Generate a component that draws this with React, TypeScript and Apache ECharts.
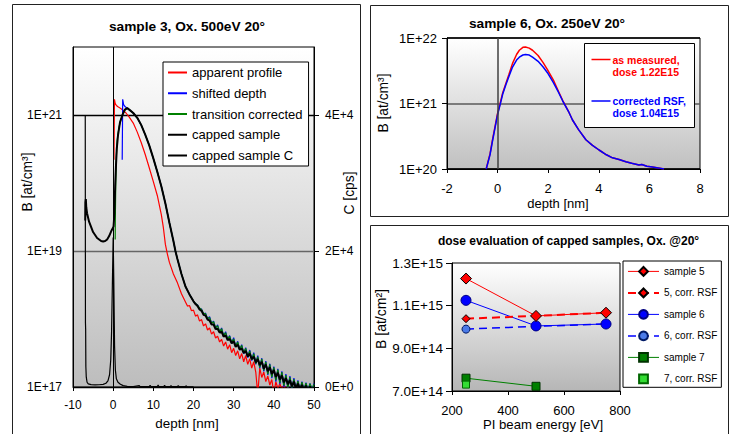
import React, { useEffect, useRef } from 'react';
import * as echarts from 'echarts';

const FONT = "'Liberation Sans', Arial, Helvetica, sans-serif";
type P = [number, number];

// ---------- Panel 1: sample 3, Ox. 500eV 20° (depth [nm], B [at/cm³], C [cps]) ----------
const apparentProfile: P[] = [
  [0.2, 2.2e20], [0.32, 1.7e21], [0.5, 1.48e21], [0.8, 1.38e21], [1.2, 1.32e21], [1.8, 1.26e21],
  [2.5, 1.17e21], [3.2, 1.07e21], [4.0, 9.3e20], [5.0, 7.6e20], [6.0, 5.6e20], [7.0, 3.9e20],
  [8.0, 2.6e20], [9.0, 1.66e20], [10.0, 1.05e20], [11.0, 6.5e19], [12.0, 3.4e19], [12.5, 2.2e19],
  [13.0, 1.25e19], [13.5, 9.0e18], [14.0, 6.8e18], [14.5, 5.6e18], [15.0, 4.6e18], [16.0, 3.4e18],
  [17.0, 2.35e18], [18.0, 1.78e18],
  [18.5, 1.55e18], [19, 1.58e18], [19.5, 1.32e18], [20, 1.35e18], [20.5, 1.1e18], [21, 1.15e18],
  [21.5, 9.3e17], [22, 9.8e17], [22.5, 7.9e17], [23, 8.5e17], [23.5, 6.9e17], [24, 7.4e17],
  [24.5, 6.0e17], [25, 6.5e17], [25.5, 5.25e17], [26, 5.6e17], [26.5, 4.6e17], [27, 5.0e17],
  [27.5, 4.0e17], [28, 4.6e17], [28.5, 3.6e17], [29, 4.2e17], [29.5, 3.2e17], [30, 3.7e17],
  [30.5, 2.9e17], [31, 3.4e17], [31.5, 2.6e17], [32, 3.1e17], [32.5, 2.35e17], [33, 2.9e17],
  [33.5, 2.15e17], [34, 2.6e17], [34.5, 1.9e17], [35, 2.35e17], [35.5, 1.66e17], [36, 7.9e16],
  [36.5, 1.9e17], [37, 1.38e17], [37.5, 1.66e17], [38, 1.2e17], [38.5, 1.45e17], [39, 1.07e17],
  [39.5, 1.29e17], [40, 7.9e16], [40.5, 1.2e17], [41, 9.5e16], [41.5, 1.12e17], [42, 9.1e16],
  [42.5, 1.07e17], [43, 8.9e16], [43.5, 1.02e17], [44, 8.5e16],
];

const shiftedDepthHead: P[] = [[2.25, 2.2e20], [2.37, 1.7e21], [2.6, 1.42e21], [3.0, 1.32e21]];

const transitionHead: P[] = [
  [0.5, 1.48e19], [0.55, 3.5e19], [0.65, 1.0e20], [0.8, 2.5e20], [1.0, 4.2e20], [1.2, 5.3e20],
  [1.5, 6.8e20], [1.9, 8.5e20], [2.4, 1.03e21], [2.9, 1.17e21],
];

const cappedHead: P[] = [
  [-6.95, 2.8e19], [-6.9, 5.2e19], [-6.8, 5.8e19], [-6.7, 4.4e19], [-6.5, 3.6e19], [-6.0, 2.7e19],
  [-5.0, 1.9e19], [-4.0, 1.55e19], [-3.0, 1.4e19], [-2.5, 1.38e19], [-2.0, 1.4e19], [-1.5, 1.48e19],
  [-1.0, 1.66e19], [-0.5, 1.95e19], [-0.2, 2.1e19], [0.1, 2.3e19], [0.3, 3.5e19], [0.5, 9.0e19],
  [0.7, 1.8e20], [0.9, 3.2e20], [1.2, 5.0e20], [1.7, 7.8e20], [2.3, 1.0e21], [2.9, 1.2e21],
];

// common part of shifted / transition-corrected / capped profiles
const profileBody: P[] = [
  [3.5, 1.26e21], [4.0, 1.2e21], [5, 1.07e21], [6, 9.1e20], [7, 7.1e20], [8, 5.1e20], [9, 3.55e20],
  [10, 2.3e20], [11, 1.45e20], [12, 8.9e19], [13, 5.0e19], [14, 2.6e19], [15, 1.4e19], [15.5, 1.0e19],
  [16, 7.6e18], [17, 4.6e18], [18, 3.0e18], [19, 2.3e18], [20, 1.82e18],
];

const shiftedDepthTail: P[] = [
  [20.5, 1.68e18], [21, 1.62e18], [21.5, 1.42e18], [22, 1.4e18], [22.5, 1.18e18], [23, 1.22e18],
  [23.5, 1.0e18], [24, 1.08e18], [24.5, 8.6e17], [25, 9.3e17], [25.5, 7.3e17], [26, 8.2e17],
  [26.5, 6.4e17], [27, 7.4e17], [27.5, 5.6e17], [28, 6.5e17], [28.5, 5.0e17], [29, 5.7e17],
  [29.5, 4.4e17], [30, 5.3e17], [30.5, 3.9e17], [31, 4.7e17], [31.5, 3.5e17], [32, 4.2e17],
  [32.5, 3.1e17], [33, 3.8e17], [33.5, 2.7e17], [34, 3.5e17], [34.5, 2.45e17], [35, 3.2e17],
  [35.5, 2.15e17], [36, 2.9e17], [36.5, 1.9e17], [37, 2.65e17], [37.5, 1.7e17], [38, 2.4e17],
  [38.5, 1.5e17], [39, 2.2e17], [39.5, 1.35e17], [40, 2.0e17], [40.5, 1.2e17], [41, 1.85e17],
  [41.5, 1.1e17], [42, 1.7e17], [42.5, 1.0e17], [43, 1.55e17], [43.5, 9.5e16], [44, 1.45e17],
  [44.5, 9.2e16], [45, 1.35e17], [45.5, 9.0e16], [46, 1.25e17], [46.5, 8.8e16], [47, 1.2e17],
  [47.5, 8.8e16], [48, 1.16e17], [48.5, 8.8e16], [49, 1.13e17], [49.5, 9.0e16], [50, 1.12e17],
];

const transitionTail: P[] = [
  [20.5, 1.7e18], [21, 1.6e18], [21.5, 1.45e18], [22, 1.38e18], [22.5, 1.2e18], [23, 1.2e18],
  [23.5, 1.02e18], [24, 1.05e18], [24.5, 8.7e17], [25, 9.1e17], [25.5, 7.4e17], [26, 8.0e17],
  [26.5, 6.5e17], [27, 7.2e17], [27.5, 5.7e17], [28, 6.3e17], [28.5, 5.1e17], [29, 5.6e17],
  [29.5, 4.5e17], [30, 5.1e17], [30.5, 4.0e17], [31, 4.6e17], [31.5, 3.6e17], [32, 4.1e17],
  [32.5, 3.2e17], [33, 3.7e17], [33.5, 2.8e17], [34, 3.4e17], [34.5, 2.5e17], [35, 3.1e17],
  [35.5, 2.2e17], [36, 2.8e17], [36.5, 1.95e17], [37, 2.6e17], [37.5, 1.75e17], [38, 2.35e17],
  [38.5, 1.55e17], [39, 2.15e17], [39.5, 1.4e17], [40, 1.95e17], [40.5, 1.25e17], [41, 1.8e17],
  [41.5, 1.15e17], [42, 1.65e17], [42.5, 1.05e17], [43, 1.5e17], [43.5, 9.8e16], [44, 1.4e17],
  [44.5, 9.5e16], [45, 1.3e17], [45.5, 9.2e16], [46, 1.22e17], [46.5, 9.0e16], [47, 1.18e17],
  [47.5, 9.0e16], [48, 1.14e17], [48.5, 9.0e16], [49, 1.12e17], [49.5, 9.3e16], [50, 1.1e17],
];

const cappedTail: P[] = [
  [20.5, 1.66e18], [21, 1.55e18], [21.5, 1.38e18], [22, 1.32e18], [22.5, 1.15e18], [23, 1.12e18],
  [23.5, 9.8e17], [24, 9.5e17], [24.5, 8.3e17], [25, 8.3e17], [25.5, 7.1e17], [26, 7.2e17],
  [26.5, 6.3e17], [27, 6.5e17], [27.5, 5.5e17], [28, 5.75e17], [28.5, 4.9e17], [29, 5.1e17],
  [29.5, 4.4e17], [30, 4.7e17], [30.5, 3.9e17], [31, 4.2e17], [31.5, 3.55e17], [32, 3.7e17],
  [32.5, 3.16e17], [33, 3.4e17], [33.5, 2.8e17], [34, 3.1e17], [34.5, 2.57e17], [35, 2.8e17],
  [35.5, 2.3e17], [36, 2.57e17], [36.5, 2.1e17], [37, 2.35e17], [37.5, 1.86e17], [38, 2.14e17],
  [38.5, 1.7e17], [39, 1.95e17], [39.5, 1.55e17], [40, 1.78e17], [40.5, 1.41e17], [41, 1.62e17],
  [41.5, 1.29e17], [42, 1.48e17], [42.5, 1.17e17], [43, 1.35e17], [43.5, 1.1e17], [44, 1.26e17],
  [44.5, 1.02e17], [45, 1.2e17], [45.5, 9.5e16], [46, 1.12e17], [46.5, 9.3e16], [47, 1.07e17],
  [47.5, 9.1e16], [48, 1.05e17], [48.5, 8.9e16], [49, 1.02e17], [49.5, 9.1e16], [50, 1.0e17],
];

const cappedC: P[] = [
  [-6.95, 40000], [-6.9, 9500], [-6.85, 8500], [-6.8, 3000], [-6.7, 1500], [-6.5, 700], [-6.2, 450],
  [-5.5, 350], [-4.5, 320], [-3.5, 330], [-2.5, 380], [-1.8, 550], [-1.3, 900], [-0.9, 1800],
  [-0.6, 4000], [-0.4, 8000], [-0.2, 15000], [0.0, 22000], [0.15, 16000], [0.35, 6000], [0.55, 2500],
  [0.8, 1200], [1.2, 700], [1.8, 400], [2.5, 200], [3.5, 100], [5, 60], [6.5, 200], [6.7, 50],
  [9, 60], [9.2, 250], [9.4, 50], [11, 60], [11.2, 300], [11.4, 50], [12.6, 60], [12.8, 250],
  [13, 50], [14.2, 60], [14.4, 200], [14.6, 50], [16, 60], [16.2, 220], [16.4, 50], [18, 50],
  [18.2, 180], [18.4, 40], [20, 40],
];

const leftLegend = ['apparent profile', 'shifted depth', 'transition corrected', 'capped sample', 'capped sample C'];

// ---------- Panel 2: sample 6, Ox. 250eV 20° ----------
const sample6Measured: P[] = [
  [-0.45, 1.0e20], [-0.3, 1.7e20], [-0.2, 2.8e20], [0.0, 7.1e20], [0.1, 1.0e21], [0.2, 1.45e21],
  [0.33, 2.04e21], [0.45, 2.8e21], [0.59, 4.1e21], [0.75, 5.6e21], [0.86, 6.5e21], [1.0, 7.2e21],
  [1.1, 7.3e21], [1.25, 7.0e21], [1.38, 6.5e21], [1.6, 5.4e21], [1.8, 4.2e21], [1.97, 3.3e21],
  [2.2, 2.3e21], [2.4, 1.55e21], [2.57, 1.12e21],
];
const sample6Corrected: P[] = [
  [-0.45, 1.0e20], [-0.3, 1.65e20], [-0.2, 2.7e20], [0.0, 6.8e20], [0.1, 9.6e20], [0.2, 1.38e21],
  [0.33, 1.95e21], [0.45, 2.6e21], [0.59, 3.6e21], [0.75, 4.6e21], [0.86, 5.1e21], [1.0, 5.5e21],
  [1.1, 5.6e21], [1.25, 5.5e21], [1.38, 5.1e21], [1.6, 4.4e21], [1.8, 3.6e21], [1.97, 2.95e21],
  [2.2, 2.1e21], [2.4, 1.5e21], [2.57, 1.1e21],
];
const sample6Tail: P[] = [
  [2.8, 7.6e20], [2.96, 5.6e20], [3.2, 4.0e20], [3.49, 2.8e20], [3.75, 2.3e20], [4.01, 1.95e20],
  [4.3, 1.65e20], [4.54, 1.48e20], [4.8, 1.4e20], [5.07, 1.29e20], [5.3, 1.22e20], [5.59, 1.15e20],
  [5.7, 1.17e20], [5.9, 1.1e20], [6.12, 1.07e20], [6.35, 1.04e20], [6.58, 1.0e20],
];

// ---------- Panel 3: dose evaluation ----------
const energies = [250, 500, 750];
const sample5 = [1.227e15, 1.052e15, 1.067e15];
const sample5Corr = [1.039e15, 1.052e15, 1.067e15];
const sample6Dose = [1.125e15, 1.005e15, 1.014e15];
const sample6DoseCorr = [0.99e15, 1.003e15, 1.014e15];
const sample7 = [7.6e14, 7.22e14];
const sample7Corr = [7.3e14];
const rightLegend = ['sample 5', '5, corr. RSF', 'sample 6', '6, corr. RSF', 'sample 7', '7, corr. RSF'];

const pairs = (xs: number[], ys: number[]) => ys.map((y, i) => [xs[i], y]);

const sci = (v: number) => {
  const e = Math.floor(Math.log10(v) + 1e-9);
  const m = v / Math.pow(10, e);
  return `${m.toFixed(1)}E+${e}`;
};

const gradient = (bottom: string) =>
  new echarts.graphic.LinearGradient(0, 0, 0, 1, [
    { offset: 0, color: '#ffffff' },
    { offset: 1, color: bottom },
  ]);

const vline = (color: string, width: number) => ({
  silent: true,
  symbol: ['none', 'none'],
  label: { show: false },
  lineStyle: { color, width, type: 'solid' },
  emphasis: { disabled: true },
  data: [{ xAxis: 0 }],
});

const txt = (text: string, x: number, y: number, size: number, opts: any = {}) => ({
  type: 'text',
  x,
  y,
  rotation: opts.rotation || 0,
  silent: true,
  style: {
    text,
    fill: opts.color || '#000',
    fontSize: size,
    fontWeight: opts.bold ? 'bold' : 'normal',
    fontFamily: FONT,
    align: opts.align || 'center',
    verticalAlign: 'middle',
  },
});

const App: React.FC = () => {
  const ref = useRef<HTMLDivElement>(null);

  useEffect(() => {
    if (!ref.current) return;
    const chart = echarts.init(ref.current, undefined, { renderer: 'svg' });

    const axisLine = { show: true, onZero: false, lineStyle: { color: '#000', width: 1 } };
    const tick = (len: number) => ({ show: true, length: len, lineStyle: { color: '#000' } });

    const lineSeries = (name: string, data: any[], color: string, width: number, xi: number, yi: number, extra: any = {}) => ({
      name,
      type: 'line',
      xAxisIndex: xi,
      yAxisIndex: yi,
      data,
      color,
      symbol: 'none',
      showSymbol: false,
      lineStyle: { color, width },
      emphasis: { disabled: true },
      silent: true,
      ...extra,
    });

    const doseSeries = (name: string, ys: number[], color: string, symbol: string, size: number, fill: string, border: string, lineType: any, lineWidth: number) => ({
      name,
      type: 'line',
      xAxisIndex: 2,
      yAxisIndex: 3,
      data: pairs(energies, ys),
      color: fill,
      symbol,
      symbolSize: size,
      showSymbol: true,
      itemStyle: { color: fill, borderColor: border, borderWidth: 1 },
      lineStyle: { color, width: lineWidth, type: lineType },
      emphasis: { disabled: true },
      silent: true,
    });

    const option: any = {
      animation: false,
      backgroundColor: '#ffffff',
      textStyle: { fontFamily: FONT, color: '#000' },
      grid: [
        { left: 73, top: 47, width: 241, height: 340, show: true, backgroundColor: gradient('#bdbdbd'), borderColor: '#000', borderWidth: 1 },
        { left: 447, top: 38, width: 253, height: 131, show: true, backgroundColor: gradient('#c0c0c0'), borderColor: '#000', borderWidth: 1 },
        { left: 452, top: 263, width: 168, height: 128, show: true, backgroundColor: gradient('#b6b6b6'), borderColor: '#000', borderWidth: 1 },
      ],
      xAxis: [
        { gridIndex: 0, type: 'value', min: -10, max: 50, interval: 10, axisLine, axisTick: tick(4),
          axisLabel: { fontSize: 12, margin: 12, color: '#000', fontFamily: FONT }, splitLine: { show: false } },
        { gridIndex: 1, type: 'value', min: -2, max: 8, interval: 2, axisLine, axisTick: tick(4),
          axisLabel: { fontSize: 13, margin: 13, color: '#000', fontFamily: FONT }, splitLine: { show: false } },
        { gridIndex: 2, type: 'value', min: 200, max: 800, interval: 200, axisLine, axisTick: tick(4),
          axisLabel: { fontSize: 13, margin: 13, color: '#000', fontFamily: FONT }, splitLine: { show: false } },
      ],
      yAxis: [
        { gridIndex: 0, type: 'log', min: 1e17, max: 1e22, position: 'left', axisLine, axisTick: { show: false },
          axisLabel: { fontSize: 12, margin: 11, color: '#000', fontFamily: FONT,
            formatter: (v: number) => { const e = Math.round(Math.log10(v)); return e % 2 === 1 ? `1E+${e}` : ''; } },
          splitLine: { show: false } },
        { gridIndex: 0, type: 'value', min: 0, max: 50000, interval: 20000, position: 'right', axisLine,
          axisTick: { show: true, length: 5, lineStyle: { color: '#000' }, customValues: [0, 20000, 40000] },
          axisLabel: { fontSize: 12, margin: 11, color: '#000', fontFamily: FONT,
            formatter: (v: number) => (v === 0 ? '0E+0' : v % 20000 === 0 ? `${v / 10000}E+4` : '') },
          splitLine: { show: true, lineStyle: { color: ['#000', '#666666', '#000', '#000'], width: 1.3 } } },
        { gridIndex: 1, type: 'log', min: 1e20, max: 1e22, position: 'left', axisLine, axisTick: tick(5),
          axisLabel: { fontSize: 13, margin: 10, color: '#000', fontFamily: FONT,
            formatter: (v: number) => `1E+${Math.round(Math.log10(v))}` },
          splitLine: { show: true, lineStyle: { color: ['#000', '#5a5a5a', '#000'], width: 1.5 } } },
        { gridIndex: 2, type: 'value', min: 7e14, max: 1.3e15, interval: 2e14, position: 'left', axisLine, axisTick: tick(6),
          axisLabel: { fontSize: 13.5, margin: 9, color: '#000', fontFamily: FONT, formatter: sci },
          splitLine: { show: false } },
      ],
      legend: [
        { data: leftLegend, orient: 'vertical', left: 163, top: 62, icon: 'rect', itemWidth: 19, itemHeight: 2,
          itemGap: 7.75, padding: [4, 6, 4, 5], backgroundColor: '#fff', borderColor: '#000', borderWidth: 1,
          selectedMode: false, textStyle: { fontSize: 13, color: '#000', fontFamily: FONT } },
        { data: rightLegend, orient: 'vertical', left: 623, top: 261, itemWidth: 31, itemHeight: 11,
          itemGap: 10.7, padding: [5, 4, 3, 4], backgroundColor: '#fff', borderColor: '#000', borderWidth: 1,
          selectedMode: false, lineStyle: { width: 'inherit' },
          textStyle: { fontSize: 10, color: '#000', fontFamily: FONT } },
      ],
      series: [
        lineSeries('apparent profile', apparentProfile, '#ff0000', 1.2, 0, 0, { markLine: vline('#000', 1) }),
        lineSeries('shifted depth', [...shiftedDepthHead, ...profileBody, ...shiftedDepthTail], '#0000ff', 1.2, 0, 0),
        lineSeries('transition corrected', [...transitionHead, ...profileBody, ...transitionTail], '#008000', 1.2, 0, 0),
        lineSeries('capped sample', [...cappedHead, ...profileBody, ...cappedTail], '#000000', 2, 0, 0),
        lineSeries('capped sample C', cappedC, '#000000', 1.2, 0, 1),
        lineSeries('as measured', [...sample6Measured, ...sample6Tail], '#ff0000', 1.5, 1, 2, { markLine: vline('#404040', 1.5) }),
        lineSeries('corrected RSF', [...sample6Corrected, ...sample6Tail], '#0000ff', 1.5, 1, 2),
        doseSeries('sample 7', sample7, '#008000', 'rect', 8, '#008000', '#003300', 'solid', 1),
        doseSeries('7, corr. RSF', sample7Corr, '#00cc00', 'rect', 7, '#33dd33', '#006600', 'solid', 0),
        doseSeries('6, corr. RSF', sample6DoseCorr, '#0000ff', 'circle', 8, '#4a7ae8', '#001a66', [8, 5], 1.5),
        doseSeries('sample 6', sample6Dose, '#0000ff', 'circle', 10, '#0000ff', '#000080', 'solid', 1),
        doseSeries('5, corr. RSF', sample5Corr, '#ff0000', 'diamond', 8, '#ff0000', '#000000', [8, 5], 2),
        doseSeries('sample 5', sample5, '#ff0000', 'diamond', 11, '#ff0000', '#000000', 'solid', 1),
      ],
      graphic: {
        elements: [
          { type: 'rect', silent: true, z: 100, shape: { x: 12.5, y: 4.5, width: 348, height: 440 }, style: { fill: 'none', stroke: '#222', lineWidth: 1 } },
          { type: 'rect', silent: true, z: 100, shape: { x: 370.5, y: 5.5, width: 358, height: 211 }, style: { fill: 'none', stroke: '#222', lineWidth: 1 } },
          { type: 'rect', silent: true, z: 100, shape: { x: 370.5, y: 225.5, width: 358, height: 220 }, style: { fill: 'none', stroke: '#222', lineWidth: 1 } },
          { ...txt('sample 3, Ox. 500eV 20°', 187, 26, 13.7, { bold: true }), z: 100 },
          { ...txt('depth [nm]', 187, 423, 13.4), z: 100 },
          { ...txt('B [at/cm³]', 27, 182, 13.8, { rotation: Math.PI / 2 }), z: 100 },
          { ...txt('C [cps]', 349, 193, 13.8, { rotation: Math.PI / 2 }), z: 100 },
          { ...txt('sample 6, Ox. 250eV 20°', 547, 23, 13.7, { bold: true }), z: 100 },
          { ...txt('depth [nm]', 558, 203.5, 13), z: 100 },
          { ...txt('B [at/cm³]', 383, 103, 13.8, { rotation: Math.PI / 2 }), z: 100 },
          { ...txt('dose evaluation of capped samples, Ox. @20°', 568.5, 241, 12, { bold: true }), z: 100 },
          { ...txt('PI beam energy [eV]', 543, 424.5, 13.2), z: 100 },
          { ...txt('B [at/cm²]', 381, 319, 14, { rotation: Math.PI / 2 }), z: 100 },
          // legend of panel 2
          { type: 'rect', silent: true, z: 100, shape: { x: 584.5, y: 43.5, width: 110, height: 84 }, style: { fill: '#fff', stroke: '#000', lineWidth: 1 } },
          { type: 'line', silent: true, z: 101, shape: { x1: 591.5, y1: 59.5, x2: 610.5, y2: 59.5 }, style: { stroke: '#ff0000', lineWidth: 1.5 } },
          { type: 'line', silent: true, z: 101, shape: { x1: 591.5, y1: 101, x2: 610.5, y2: 101 }, style: { stroke: '#0000ff', lineWidth: 1.5 } },
          { ...txt('as measured,', 612.5, 60, 10.5, { bold: true, color: '#ff0000', align: 'left' }), z: 101 },
          { ...txt('dose 1.22E15', 612.5, 71.7, 10.5, { bold: true, color: '#ff0000', align: 'left' }), z: 101 },
          { ...txt('corrected RSF,', 612.5, 101, 10.5, { bold: true, color: '#0000ff', align: 'left' }), z: 101 },
          { ...txt('dose 1.04E15', 612.5, 112.7, 10.5, { bold: true, color: '#0000ff', align: 'left' }), z: 101 },
        ],
      },
    };

    chart.setOption(option);
    return () => chart.dispose();
  }, []);

  return (
    <div
      ref={ref}
      style={{ position: 'absolute', left: 0, top: 0, width: 732, height: 434, background: '#fff' }}
    />
  );
};

export default App;
